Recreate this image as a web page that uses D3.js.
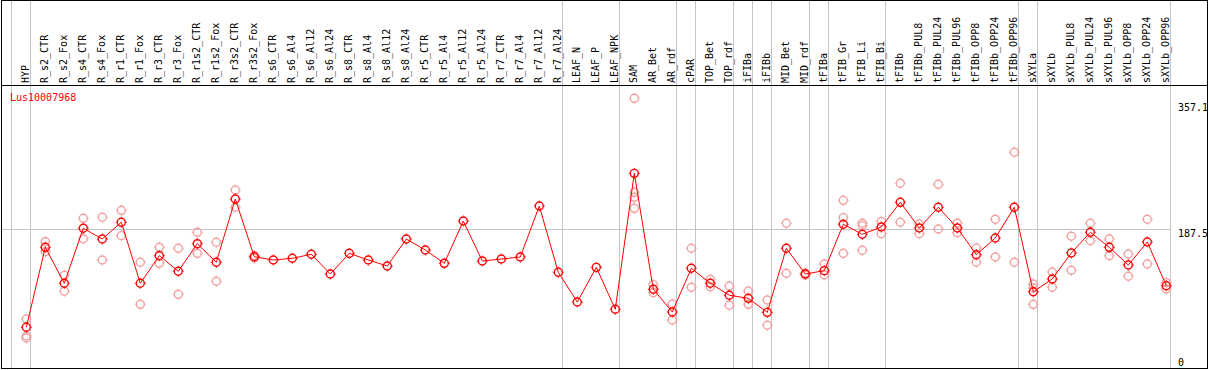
<!DOCTYPE html>
<html>
<head>
<meta charset="utf-8">
<script src="https://cdn.jsdelivr.net/npm/d3@7"></script>
<style>
  body { margin: 0; background: #fff; }
  svg { display: block; }
  text { font-family: "DejaVu Sans Mono", monospace; font-size: 10px; }
</style>
</head>
<body>
<div id="chart"></div>
<script>
//sample names along the top
var categories = ["HYP","R_s2_CTR","R_s2_Fox","R_s4_CTR","R_s4_Fox","R_r1_CTR","R_r1_Fox","R_r3_CTR","R_r3_Fox",
  "R_r1s2_CTR","R_r1s2_Fox","R_r3s2_CTR","R_r3s2_Fox","R_s6_CTR","R_s6_Al4","R_s6_Al12","R_s6_Al24",
  "R_s8_CTR","R_s8_Al4","R_s8_Al12","R_s8_Al24","R_r5_CTR","R_r5_Al4","R_r5_Al12","R_r5_Al24",
  "R_r7_CTR","R_r7_Al4","R_r7_Al12","R_r7_Al24","LEAF_N","LEAF_P","LEAF_NPK","SAM","AR_Bet","AR_rdf",
  "cPAR","TOP_Bet","TOP_rdf","iFIBa","iFIBb","MID_Bet","MID_rdf","tFIBa","tFIB_Gr","tFIB_Li","tFIB_Bi",
  "tFIBb","tFIBb_PUL8","tFIBb_PUL24","tFIBb_PUL96","tFIBb_OPP8","tFIBb_OPP24","tFIBb_OPP96",
  "sXYLa","sXYLb","sXYLb_PUL8","sXYLb_PUL24","sXYLb_PUL96","sXYLb_OPP8","sXYLb_OPP24","sXYLb_OPP96"];

//mean expression per sample
var means = [54.9,162.8,114.3,188.5,174.0,196.6,114.3,151.5,130.5,
  167.7,142.6,228.0,150.1,145.7,148.0,153.4,126.8,
  154.7,145.7,137.6,174.0,159.2,141.2,198.3,144.3,
  147.0,149.7,218.5,129.1,89.0,135.8,79.2,262.6,106.2,75.5,
  134.5,114.3,98.1,94.0,75.1,161.5,126.8,131.3,193.9,180.4,190.2,
  223.5,188.9,216.8,188.9,152.8,175.4,216.8,
  102.9,120.1,155.1,183.1,162.8,138.9,170.0,111.0];

//single replicates (empty where none shown)
var replicates = [[66.1,43.2,40.5],[170.4,156.9],[125.1,103.5],[201.9,174.4],[203.3,145.7],[212.7,178.5],[142.6,85.9],[162.8,141.2],[161.5,99.4],
  [183.1,154.7],[169.6,117.0],[240.1,216.8],[151.8,148.4],[],[],[],[],
  [],[],[],[],[],[],[],[],
  [],[],[],[],[],[],[],[363.8,237.0,230.3,215.4],[112.4,101.6],[86.3,64.8],
  [161.5,108.9],[119.7,109.7],[110.6,84.6],[103.9,85.9],[91.7,57.6],[195.2,127.8],[128.2,125.5],[140.3,125.5],[226.2,202.8,154.7],[195.2,192.0,158.8],[197.4,181.2],
  [249.2,196.6],[194.3,181.2],[247.8,187.5],[195.2,182.5],[161.9,142.6],[200.6,149.7],[291.0,142.6],
  [113.3,107.9,85.9],[129.5,108.9],[177.7,131.8],[195.2,171.7],[174.0,151.5],[153.8,123.7],[200.6,140.3],[115.1,106.6]];

//samples that start a new group (grey separator before them)
var groupStarts = ["HYP","R_s2_CTR","LEAF_N","SAM","cPAR","TOP_Bet","iFIBa","iFIBb","MID_Bet","tFIBa","tFIB_Gr","tFIBb","sXYLa","sXYLb"];

//right hand labels
var yTicks = [357.1, 187.5, 0];
var geneName = "Lus10007968";

var width = 1209, height = 370;

var svg = d3.select("#chart").append("svg")
    .attr("width", width)
    .attr("height", height);

var x = d3.scaleBand()
    .domain(categories)
    .range([11, 1170])
    .padding(0);

var y = d3.scaleLinear()
    .domain([0, 375])
    .range([368, 90]);

//point sits toward the right of each column
function px(name) { return x(name) + 15.3; }

//grey column separators
svg.selectAll(".vsep")
    .data(groupStarts)
    .enter().append("line")
    .attr("x1", function(d) { return Math.round(x(d)) + 0.5; })
    .attr("x2", function(d) { return Math.round(x(d)) + 0.5; })
    .attr("y1", 0)
    .attr("y2", 369)
    .attr("stroke", "#c4c4c4");

svg.append("line")
    .attr("x1", x.range()[1] + 0.5).attr("x2", x.range()[1] + 0.5)
    .attr("y1", 0).attr("y2", 369)
    .attr("stroke", "#c4c4c4");

//grey midline
svg.append("line")
    .attr("x1", 1).attr("x2", x.range()[1])
    .attr("y1", Math.round(y(187.5)) + 0.5)
    .attr("y2", Math.round(y(187.5)) + 0.5)
    .attr("stroke", "#c4c4c4");

//black frame and header line
svg.append("rect")
    .attr("x", 1.5).attr("y", 0.5)
    .attr("width", 1206).attr("height", 368)
    .attr("fill", "none")
    .attr("stroke", "#000");

svg.append("line")
    .attr("x1", 1).attr("x2", 1208)
    .attr("y1", 85.5).attr("y2", 85.5)
    .attr("stroke", "#000");

//rotated sample labels
svg.selectAll(".lab")
    .data(categories)
    .enter().append("text")
    .attr("transform", function(d) { return "translate(" + (px(d) + 3) + ",83) rotate(-90)"; })
    .attr("fill", "#000")
    .text(function(d) { return d; });

//gene name
svg.append("text")
    .attr("x", 10)
    .attr("y", 101)
    .attr("fill", "#f00")
    .text(geneName);

//right axis labels
svg.selectAll(".ytick")
    .data(yTicks)
    .enter().append("text")
    .attr("x", 1178)
    .attr("y", function(d) { return d === 0 ? y(d) - 2.5 : y(d) + 7.5; })
    .attr("fill", "#000")
    .text(function(d) { return d; });

//replicate circles
var reps = [];
categories.forEach(function(c, i) {
    replicates[i].forEach(function(v) { reps.push({name: c, value: v}); });
});

function marker(sel, color) {
    sel.append("circle")
        .attr("r", 4)
        .attr("fill", "none")
        .attr("stroke", color)
        .attr("stroke-width", 1.4);
    sel.append("path")
        .attr("d", "M0,-5.5V-4.5M0,4.5V5.5M-5.5,0H-4.5M4.5,0H5.5")
        .attr("stroke", color)
        .attr("stroke-width", 1);
}

svg.selectAll(".rep")
    .data(reps)
    .enter().append("g")
    .attr("transform", function(d) { return "translate(" + px(d.name) + "," + y(d.value) + ")"; })
    .call(marker, "#f2a0a0");

//mean line
var line = d3.line()
    .x(function(d, i) { return px(categories[i]); })
    .y(function(d) { return y(d); });

svg.append("path")
    .datum(means)
    .attr("d", line)
    .attr("fill", "none")
    .attr("stroke", "#f00")
    .attr("stroke-width", 1);

svg.selectAll(".mean")
    .data(means)
    .enter().append("g")
    .attr("transform", function(d, i) { return "translate(" + px(categories[i]) + "," + y(d) + ")"; })
    .call(marker, "#f00");
</script>
</body>
</html>
